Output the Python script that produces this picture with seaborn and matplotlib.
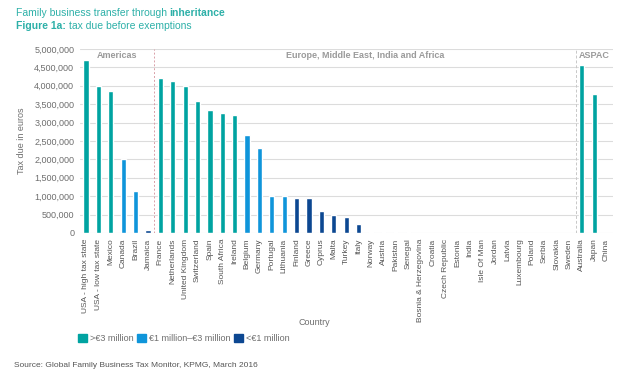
import matplotlib
matplotlib.use("Agg")
import matplotlib.pyplot as plt
from matplotlib.patches import Patch
from matplotlib.ticker import FuncFormatter
import seaborn as sns
import pandas as pd

# data
countries = ["USA - high tax state", "USA - low tax state", "Mexico", "Canada", "Brazil", "Jamaica",
             "France", "Netherlands", "United Kingdom", "Switzerland", "Spain", "South Africa",
             "Ireland", "Belgium", "Germany", "Portugal", "Lithuania", "Finland", "Greece",
             "Cyprus", "Malta", "Turkey", "Italy", "Norway", "Austria", "Pakistan", "Senegal",
             "Bosnia & Herzegovina", "Croatia", "Czech Republic", "Estonia", "India", "Isle Of Man",
             "Jordan", "Latvia", "Luxembourg", "Poland", "Serbia", "Slovakia", "Sweden",
             "Australia", "Japan", "China"]
tax_due = [4690000, 4000000, 3850000, 2020000, 1150000, 70000,
           4220000, 4120000, 4000000, 3600000, 3330000, 3270000,
           3220000, 2650000, 2310000, 1000000, 1000000, 950000, 950000,
           600000, 480000, 440000, 250000, 30000, 20000, 20000, 20000,
           0, 0, 0, 0, 0, 0,
           0, 0, 0, 0, 0, 0, 0,
           4570000, 3780000, 0]
band = (["high"] * 3 + ["mid"] * 2 + ["low"]
        + ["high"] * 7 + ["mid"] * 4 + ["low"] * 23
        + ["high"] * 3)
regions = ["Americas", "Europe, Middle East, India and Africa", "ASPAC"]
region_sizes = [6, 34, 3]
band_labels = {"high": ">€3 million", "mid": "€1 million–€3 million", "low": "<€1 million"}

palette = {"high": "#00A3A1", "mid": "#0F95DA", "low": "#0C4791"}
teal_text = "#2DB0A8"
grey = "#6E6E6E"

df = pd.DataFrame({"country": countries, "tax": tax_due, "band": band})

sns.set_style("white")
plt.rcParams["font.family"] = ["Liberation Sans", "DejaVu Sans"]

fig = plt.figure(figsize=(6.33, 3.77), dpi=100)
ax = fig.add_axes([0.126, 0.382, 0.842, 0.488])

sns.barplot(data=df, x="country", y="tax", hue="band", palette=palette,
            dodge=False, width=0.42, legend=False, ax=ax, saturation=1)

ax.set_ylim(0, 5000000)
ax.set_xlim(-0.5, len(countries) - 0.5)
ax.set_yticks(range(0, 5000001, 500000))
ax.yaxis.set_major_formatter(FuncFormatter(lambda v, p: f"{int(v):,}"))
ax.grid(axis="y", color="#DCDCDC", linewidth=0.8)
ax.set_axisbelow(True)
for s in ax.spines.values():
    s.set_visible(False)
ax.tick_params(axis="y", labelsize=6.5, colors=grey, length=0, pad=4)
ax.tick_params(axis="x", labelsize=6.0, colors="#555555", length=0, pad=4)
plt.setp(ax.get_xticklabels(), rotation=90)

ax.set_ylabel("Tax due in euros", fontsize=6.5, color=grey)
ax.yaxis.set_label_coords(-0.1, 0.5)
ax.set_xlabel("Country", fontsize=6.5, color=grey)
ax.xaxis.set_label_coords(0.44, -0.46)

# region dividers and labels
ax.axvline(region_sizes[0] - 0.5, color="#D9A0A8", linestyle=(0, (2, 2)), linewidth=0.7)
ax.axvline(region_sizes[0] + region_sizes[1] - 0.5, color="#C8C8C8", linestyle=(0, (3, 2)), linewidth=0.7)
start = 0
for name, n in zip(regions, region_sizes):
    ax.text(start - 0.5 + n / 2, 4820000, name, ha="center", va="center",
            fontsize=6.5, fontweight="bold", color="#9A9A9A")
    start += n

# title with bold parts
fig.canvas.draw()
r = fig.canvas.get_renderer()
t1 = fig.text(0.025, 0.965, "Family business transfer through ", fontsize=7.5, color=teal_text, va="center")
bb = t1.get_window_extent(r)
fig.text(bb.x1 / fig.bbox.width, 0.965, "inheritance", fontsize=7.5, color=teal_text,
         fontweight="bold", va="center")
t2 = fig.text(0.025, 0.93, "Figure 1a:", fontsize=7.5, color=teal_text, fontweight="bold", va="center")
bb = t2.get_window_extent(r)
fig.text(bb.x1 / fig.bbox.width + 0.005, 0.93, "tax due before exemptions", fontsize=7.5,
         color=teal_text, va="center")

handles = [Patch(color=palette[k], label=band_labels[k]) for k in ["high", "mid", "low"]]
fig.legend(handles=handles, loc="center left", bbox_to_anchor=(0.118, 0.103), ncol=3,
           frameon=False, fontsize=6.5, handlelength=1.0, handleheight=1.0,
           handletextpad=0.3, columnspacing=0.4, labelcolor=grey, borderaxespad=0)

fig.text(0.022, 0.03, "Source: Global Family Business Tax Monitor, KPMG, March 2016",
         fontsize=6, color="#555555", va="center")

fig.savefig("out.png", dpi=100)
